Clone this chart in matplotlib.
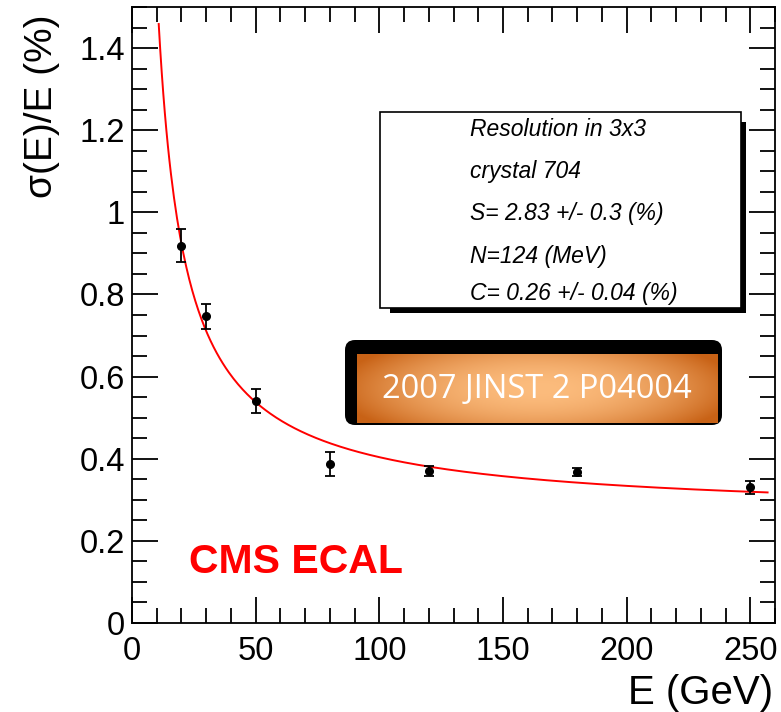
import numpy as np
import matplotlib.pyplot as plt
from matplotlib.patches import FancyBboxPatch, Rectangle
from matplotlib.ticker import MultipleLocator

# beam energies and measured relative resolution
energy = [20, 30, 50, 80, 120, 180, 250]
resolution = [0.919, 0.747, 0.541, 0.388, 0.371, 0.367, 0.330]
res_err = [0.040, 0.031, 0.030, 0.029, 0.012, 0.010, 0.015]

# fit parameters
S_term = 2.83   # stochastic (%)
N_term = 124    # noise (MeV)
C_term = 0.26   # constant (%)

info_lines = ["Resolution in 3x3",
              "crystal 704",
              "S= 2.83 +/- 0.3 (%)",
              "N=124 (MeV)",
              "C= 0.26 +/- 0.04 (%)"]

yticks = [0, 0.2, 0.4, 0.6, 0.8, 1.0, 1.2, 1.4]
yticklabels = ["0", "0.2", "0.4", "0.6", "0.8", "1", "1.2", "1.4"]
xticks = [0, 50, 100, 150, 200, 250]

plt.rcParams['font.family'] = ['Liberation Sans', 'DejaVu Sans']

fig = plt.figure(figsize=(7.81, 7.12), dpi=100)
ax = fig.add_axes([132/781, 89/712, 643/781, 616/712])

# fitted resolution curve
e = np.linspace(10.8, 257, 400)
fit = np.sqrt((S_term / np.sqrt(e))**2 + (N_term / 10.0 / e)**2 + C_term**2)
ax.plot(e, fit, color='#ff0000', lw=1.4, zorder=3)

ax.errorbar(energy, resolution, yerr=res_err, fmt='o', color='black',
            ms=5.5, elinewidth=1.3, capsize=3.5, capthick=1.3, zorder=4)

ax.set_xticks(xticks)
ax.set_yticks(yticks)
ax.set_yticklabels(yticklabels)
ax.xaxis.set_minor_locator(MultipleLocator(10))
ax.yaxis.set_minor_locator(MultipleLocator(0.05))
ax.tick_params(which='both', direction='in', top=True, right=True,
               width=1.3, labelsize=23.5)
ax.tick_params(which='major', length=19)
ax.tick_params(which='minor', length=10.5)
ax.tick_params(axis='x', pad=9)
ax.tick_params(axis='y', pad=5)
for s in ax.spines.values():
    s.set_linewidth(1.3)

fig.text(773/781, 1 - 693/712, "E (GeV)", fontsize=29, ha='right', va='center')
fig.text(42/781, 1 - 106/712, "σ(E)/E (%)", fontsize=28,
         rotation=90, ha='center', va='center')

# info box with shadow
ax.add_patch(Rectangle((104.4, 0.754), 144.0, 0.466, facecolor='black',
                       edgecolor='none', zorder=5))
ax.add_patch(Rectangle((100.3, 0.766), 146.1, 0.478, facecolor='white',
                       edgecolor='black', lw=1.2, zorder=6))
line_y = [1.202, 1.100, 0.998, 0.893, 0.802]
for txt, yy in zip(info_lines, line_y):
    ax.text(136.5, yy, txt, fontsize=16.5, style='italic', va='center',
            ha='left', zorder=7)

# reference banner: black rounded frame (in inches) with orange gradient
ax.add_patch(FancyBboxPatch((3.45, 2.87), 3.77, 0.85,
                            boxstyle="round,pad=0,rounding_size=0.1",
                            transform=fig.dpi_scale_trans,
                            facecolor='black', edgecolor='none', zorder=5))
gx = np.linspace(-1, 1, 200)
gy = np.linspace(-1, 1, 40)
gxx, gyy = np.meshgrid(gx, gy)
shade = 1 - 0.8 * gxx**2 - 0.35 * gyy**2
shade = np.clip(shade, 0, 1)
dark = np.array([200, 98, 22]) / 255
light = np.array([252, 188, 125]) / 255
grad = dark + (light - dark) * shade[..., None]
ax.imshow(grad, extent=(91.0, 236.7, 0.488, 0.654), aspect='auto',
          zorder=6, interpolation='bilinear')
ax.text(163.9, 0.569, "2007 JINST 2 P04004", color='white', fontsize=23.5,
        family=['Open Sans', 'DejaVu Sans'], ha='center', va='center', zorder=7)

ax.text(23, 0.122, "CMS ECAL", color='#ff0000', fontsize=29.5,
        fontweight='bold', ha='left', va='baseline', zorder=7)

ax.set_xlim(0, 260)
ax.set_ylim(0, 1.5)

fig.savefig('out.png', dpi=100)
